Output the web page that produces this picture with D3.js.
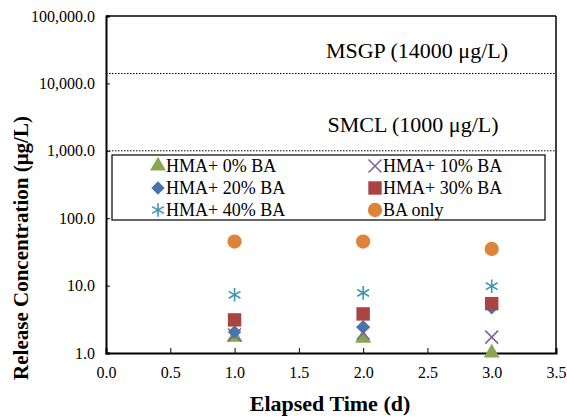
<!DOCTYPE html>
<html>
<head>
<meta charset="utf-8">
<script src="https://cdn.jsdelivr.net/npm/d3@7"></script>
<style>
  body { margin: 0; background: #fff; }
  svg, svg text { font-family: "Liberation Serif", "DejaVu Serif", serif; fill: #000; }
  .axis path, .axis line { stroke: #000; }
</style>
</head>
<body>
<svg id="chart" width="567" height="418"></svg>
<script>
// elapsed days
const days = [1, 2, 3];

// series names and values
const seriesNames = ["HMA+ 0% BA", "HMA+ 10% BA", "HMA+ 20% BA", "HMA+ 30% BA", "HMA+ 40% BA", "BA only"];
const hma0 = [1.72, 1.66, 1.0];
const hma10 = [1.85, 1.98, 1.72];
const hma20 = [2.05, 2.45, 4.7];
const hma30 = [3.1, 3.8, 5.4];
const hma40 = [7.3, 7.8, 9.8];
const baOnly = [45, 45, 35];

// reference limits
const limitNames = ["MSGP (14000 \u03bcg/L)", "SMCL (1000 \u03bcg/L)"];
const limitValues = [14000, 1000];

const xTicks = [0, 0.5, 1, 1.5, 2, 2.5, 3, 3.5];
const yTicks = [1, 10, 100, 1000, 10000, 100000];

const colors = ["#8AA64E", "#7F659E", "#4874AE", "#AA4443", "#3E98B2", "#DF833B"];
const shapes = ["triangle", "cross", "diamond", "square", "star", "circle"];
const values = [hma0, hma10, hma20, hma30, hma40, baOnly];

const FONT = '"Liberation Serif", "DejaVu Serif", serif';

const svg = d3.select("#chart");
const margin = {top: 16, right: 11, bottom: 65, left: 106};
const width = 567 - margin.left - margin.right;
const height = 418 - margin.top - margin.bottom;

const x = d3.scaleLinear().domain([0, 3.5]).range([0, width]);
const y = d3.scaleLog().domain([1, 100000]).range([height, 0]);

const chart = svg.append("g")
  .attr("transform", `translate(${margin.left},${margin.top})`);

// axes with inside ticks
const fmtY = d3.format(",.1f");
const xAxisG = chart.append("g")
  .attr("class", "axis")
  .attr("transform", `translate(0,${height})`)
  .call(d3.axisBottom(x).tickValues(xTicks).tickFormat(d3.format(".1f")).tickSize(-5).tickPadding(14));

const yAxisG = chart.append("g")
  .attr("class", "axis")
  .call(d3.axisLeft(y).tickValues(yTicks).tickFormat(fmtY).tickSize(-4).tickPadding(11));

[xAxisG, yAxisG].forEach(g => {
  g.attr("font-family", FONT).attr("font-size", 16);
  g.select(".domain").attr("stroke-width", 2);
  g.selectAll("text").style("font-family", FONT).style("font-size", "16px");
});

// box on the right and top
chart.append("line").attr("x1", width).attr("x2", width).attr("y1", 0).attr("y2", height)
  .attr("stroke", "#000").attr("stroke-width", 1.5);
chart.append("line").attr("x1", 0).attr("x2", width).attr("y1", 0).attr("y2", 0)
  .attr("stroke", "#000").attr("stroke-width", 1.5);

// limit lines and labels
const labelX = [311, 307];
const labelDy = [16, 19];
limitValues.forEach((v, i) => {
  chart.append("line")
    .attr("x1", 0).attr("x2", width)
    .attr("y1", y(v)).attr("y2", y(v))
    .attr("stroke", "#000").attr("stroke-width", 1)
    .attr("stroke-dasharray", "1.5,1.5");
  chart.append("text")
    .attr("x", labelX[i])
    .attr("y", y(v) - labelDy[i])
    .attr("text-anchor", "middle")
    .style("font-family", FONT)
    .style("font-size", "22px")
    .text(limitNames[i]);
});

function symbolPath(shape) {
  const types = {
    triangle: d3.symbolTriangle, cross: d3.symbolTimes, diamond: d3.symbolSquare,
    square: d3.symbolSquare, star: d3.symbolAsterisk, circle: d3.symbolCircle
  };
  const sizes = {triangle: 110, cross: 110, diamond: 90, square: 180, star: 130, circle: 160};
  return d3.symbol().type(types[shape]).size(sizes[shape])();
}

function drawMark(g, i) {
  const line = shapes[i] === "cross" || shapes[i] === "star";
  g.append("path")
    .attr("d", symbolPath(shapes[i]))
    .attr("transform", shapes[i] === "diamond" ? "rotate(45)" : null)
    .attr("fill", line ? "none" : colors[i])
    .attr("stroke", line ? colors[i] : "none")
    .attr("stroke-width", line ? 1.6 : 0);
}

// legend
const legend = chart.append("g").attr("transform", "translate(6,139)");
legend.append("rect").attr("width", 433).attr("height", 65)
  .attr("fill", "#fff").attr("stroke", "#000").attr("stroke-width", 1.2);
seriesNames.forEach((name, i) => {
  const col = i % 2, row = Math.floor(i / 2);
  const item = legend.append("g")
    .attr("transform", `translate(${46 + col * 217},${11 + row * 22})`);
  drawMark(item, i);
  item.append("text").attr("x", 8).attr("y", 6)
    .style("font-family", FONT)
    .style("font-size", "18px").text(name);
});

// points
values.forEach((vals, i) => {
  chart.selectAll(null)
    .data(vals.map((v, j) => ({day: days[j], v})))
    .enter().append("g")
    .attr("transform", d => `translate(${x(d.day)},${y(d.v)})`)
    .each(function() { drawMark(d3.select(this), i); });
});

// axis titles
svg.append("text")
  .attr("x", 330)
  .attr("y", 411)
  .attr("text-anchor", "middle")
  .style("font-family", FONT)
  .style("font-size", "22px").style("font-weight", "bold")
  .text("Elapsed Time (d)");

svg.append("text")
  .attr("transform", "translate(28,248) rotate(-90)")
  .attr("text-anchor", "middle")
  .style("font-family", FONT)
  .style("font-size", "21px").style("font-weight", "bold")
  .text("Release Concentration (\u03bcg/L)");
</script>
</body>
</html>
